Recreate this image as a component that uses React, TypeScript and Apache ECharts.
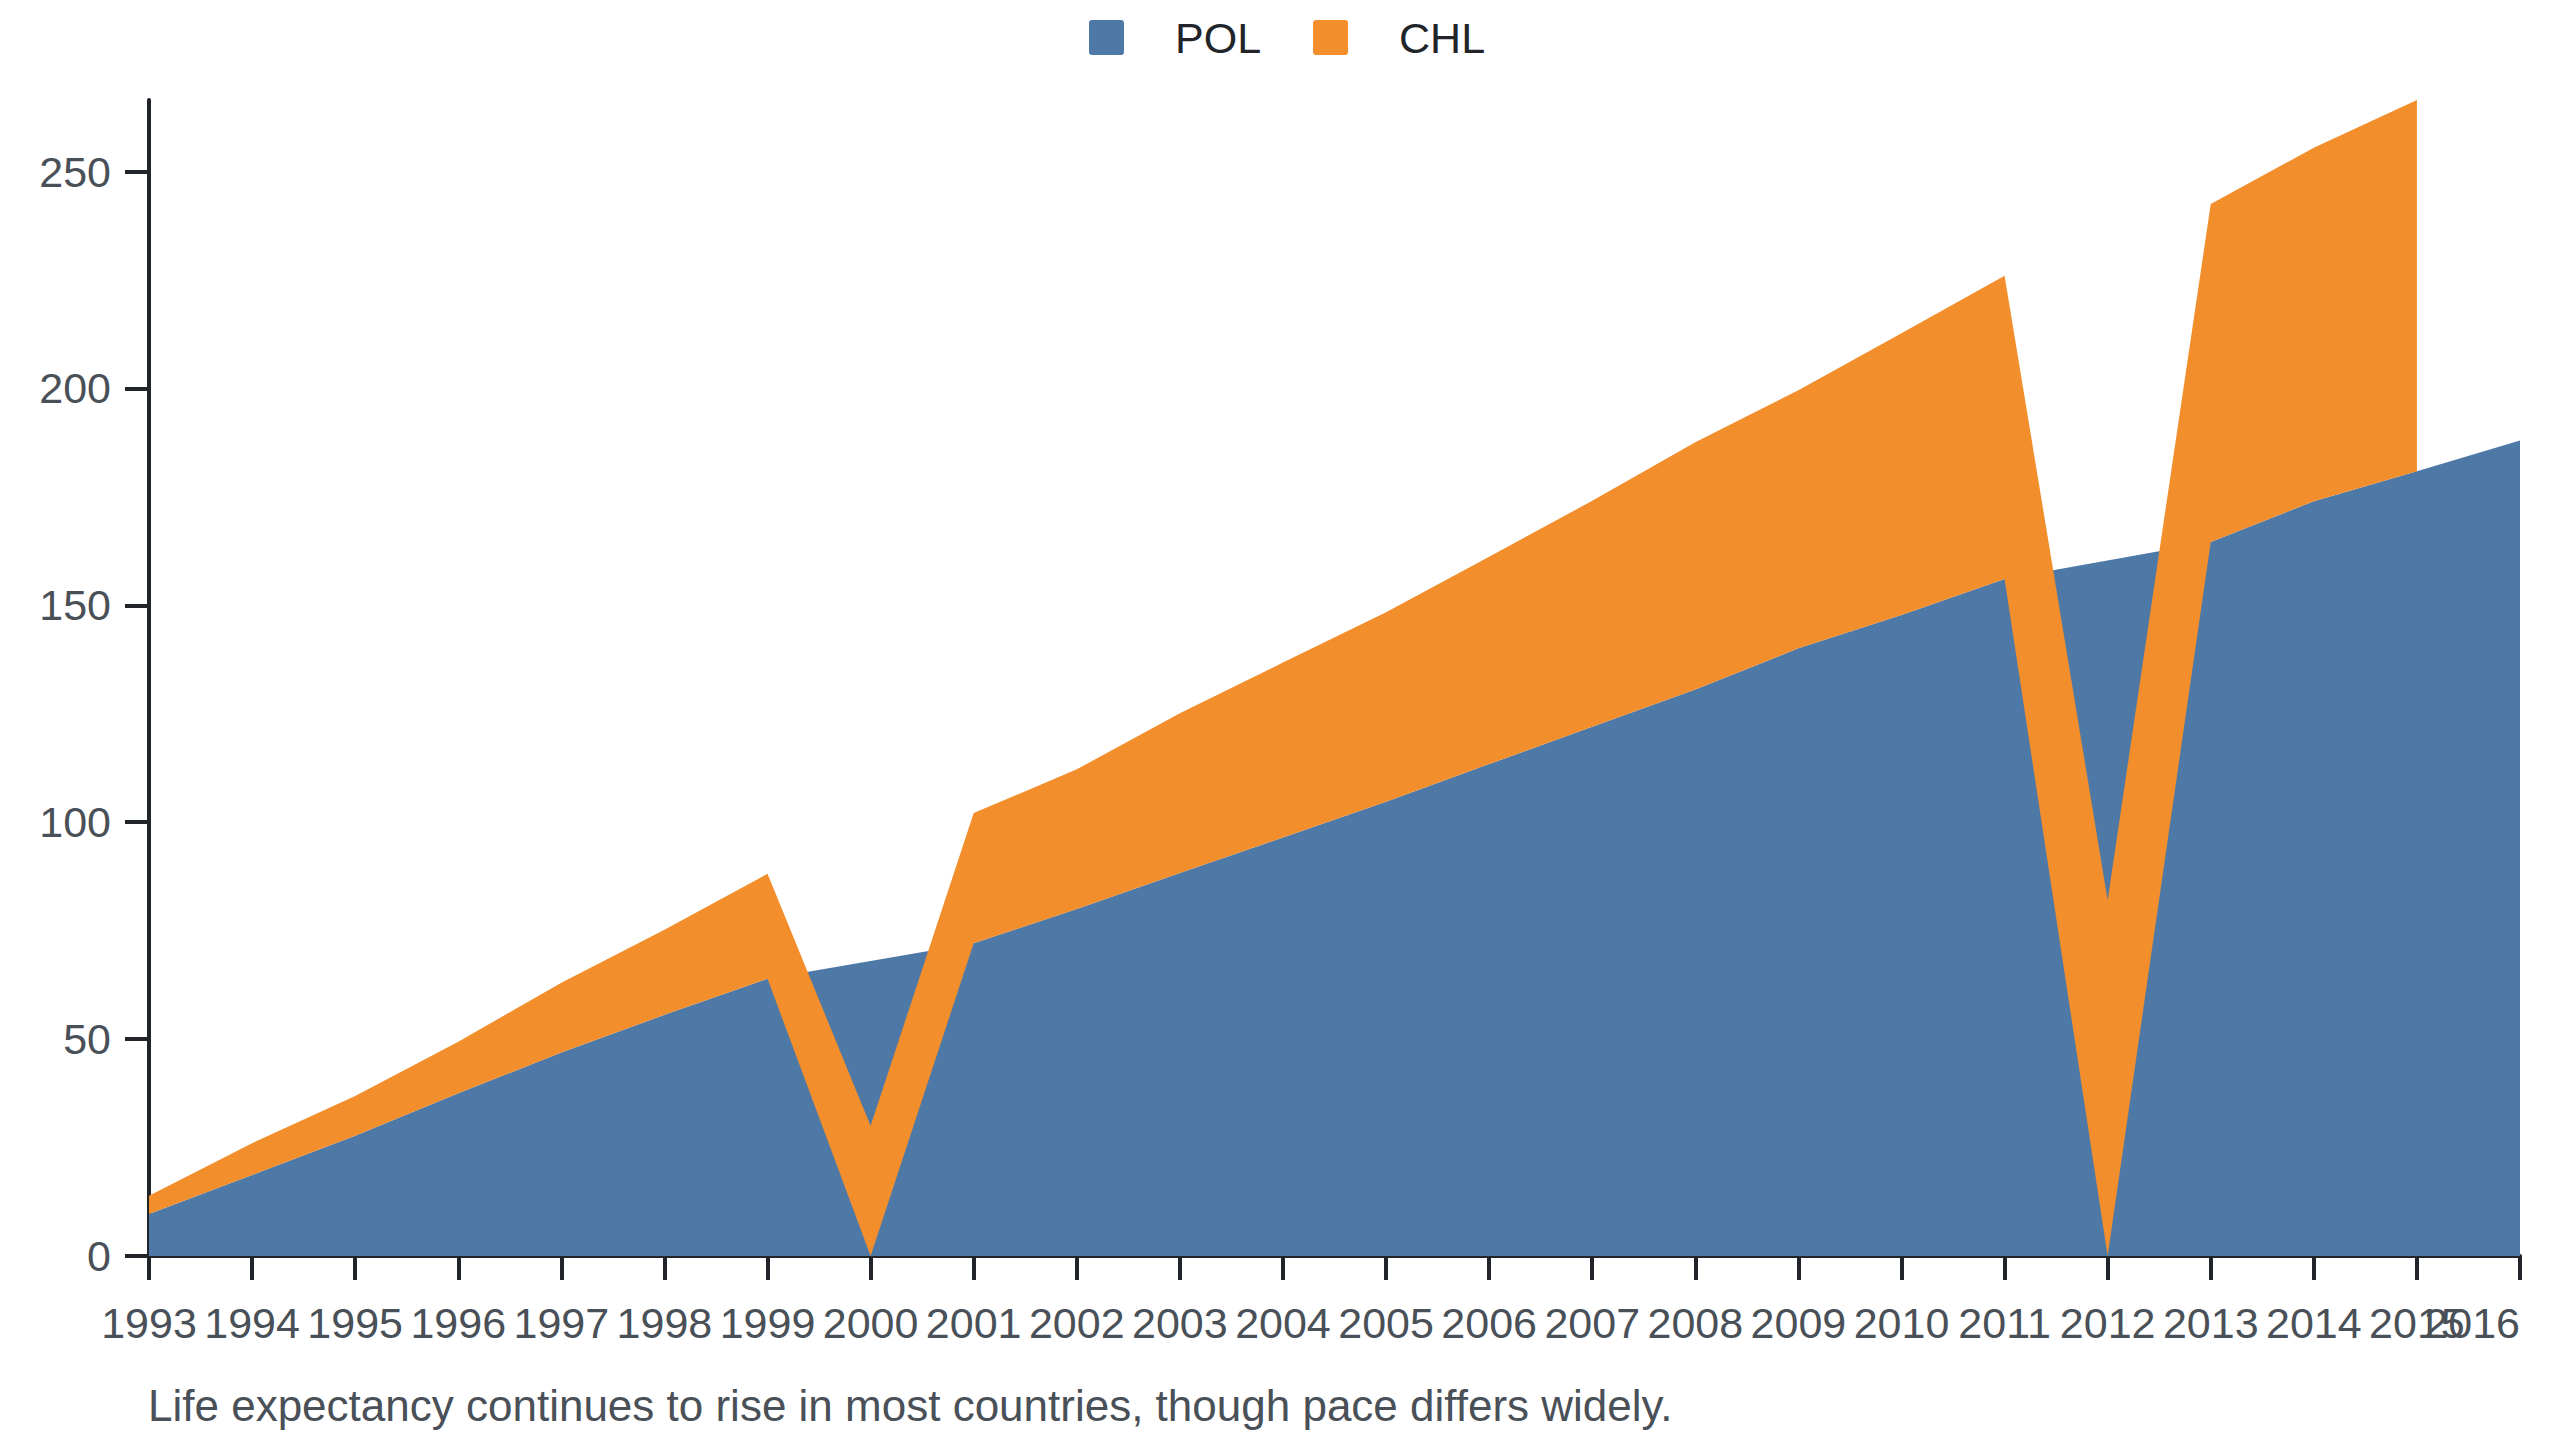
import React, { useEffect, useRef } from "react";
import * as echarts from "echarts";

const years = ["1993","1994","1995","1996","1997","1998","1999","2000","2001","2002","2003","2004","2005","2006","2007","2008","2009","2010","2011","2012","2013","2014","2015","2016"];
const polValues = [9.7, 18.7, 27.7, 37.5, 46.9, 55.6, 63.9, null, 72.1, 80.0, 88.3, 96.5, 104.7, 113.4, 122.0, 130.6, 140.1, 147.8, 156.1, null, 164.6, 174.0, 180.9, 188.0];
const chlValues = [4.2, 7.3, 9.2, 11.9, 16.1, 19.6, 24.2, 30.0, 30.0, 32.2, 36.8, 40.3, 43.7, 47.8, 52.1, 57.0, 59.5, 64.9, 69.9, 82.0, 77.9, 81.5, 85.6, null];
const yTicks = [0, 50, 100, 150, 200, 250];
const seriesNames = ["POL", "CHL"];
const seriesColors = ["#4e79a7", "#f28e2b"];
const subtitle = "Life expectancy continues to rise in most countries, though pace differs widely.";

const FONT = "'Liberation Sans', Arial, Helvetica, sans-serif";
const ICON = "path://M3,0H32A3,3,0,0,1,35,3V32A3,3,0,0,1,32,35H3A3,3,0,0,1,0,32V3A3,3,0,0,1,3,0Z";

export default function App() {
  const ref = useRef<HTMLDivElement>(null);
  useEffect(() => {
    if (!ref.current) return;
    const chart = echarts.init(ref.current, null, { renderer: "svg" });
    const axisColor = "#212529";
    const labelColor = "#495057";
    chart.setOption({
      animation: false,
      textStyle: { fontFamily: FONT },
      title: {
        text: subtitle,
        left: 148,
        top: 1383,
        padding: 0,
        textStyle: { fontFamily: FONT, fontSize: 44, fontWeight: "normal", color: labelColor },
      },
      legend: {
        data: seriesNames,
        left: 1089,
        top: 16,
        padding: 0,
        icon: ICON,
        itemWidth: 35,
        itemHeight: 35,
        itemGap: 52,
        itemStyle: { borderWidth: 0 },
        textStyle: { fontFamily: FONT, fontSize: 43, color: axisColor, padding: [0, 0, 0, 46] },
      },
      grid: { left: 149, right: 40, top: 100, bottom: 184, containLabel: false },
      xAxis: {
        type: "category",
        data: years,
        boundaryGap: false,
        axisLine: { show: true, lineStyle: { color: axisColor, width: 4 } },
        axisTick: { show: true, interval: 0, length: 24, lineStyle: { color: axisColor, width: 4 } },
        axisLabel: {
          interval: 0,
          hideOverlap: false,
          alignMaxLabel: "right",
          margin: 45,
          fontFamily: FONT,
          fontSize: 43,
          color: labelColor,
        },
        splitLine: { show: false },
      },
      yAxis: {
        type: "value",
        min: 0,
        max: (v: { max: number }) => v.max,
        interval: 50,
        axisLine: { show: true, lineStyle: { color: axisColor, width: 4 } },
        axisTick: { show: true, length: 24, customValues: yTicks, lineStyle: { color: axisColor, width: 4 } },
        axisLabel: { customValues: yTicks, margin: 38, fontFamily: FONT, fontSize: 43, color: labelColor },
        splitLine: { show: false },
      },
      series: [
        {
          name: seriesNames[0],
          type: "line",
          stack: "total",
          data: polValues,
          connectNulls: true,
          symbol: "none",
          color: seriesColors[0],
          lineStyle: { width: 0 },
          areaStyle: { color: seriesColors[0], opacity: 1 },
        },
        {
          name: seriesNames[1],
          type: "line",
          stack: "total",
          data: chlValues,
          symbol: "none",
          color: seriesColors[1],
          lineStyle: { width: 0 },
          areaStyle: { color: seriesColors[1], opacity: 1 },
        },
      ],
    });
    return () => chart.dispose();
  }, []);
  return (
    <div
      ref={ref}
      style={{ position: "absolute", left: 0, top: 0, width: 2560, height: 1440, background: "#fff" }}
    />
  );
}
